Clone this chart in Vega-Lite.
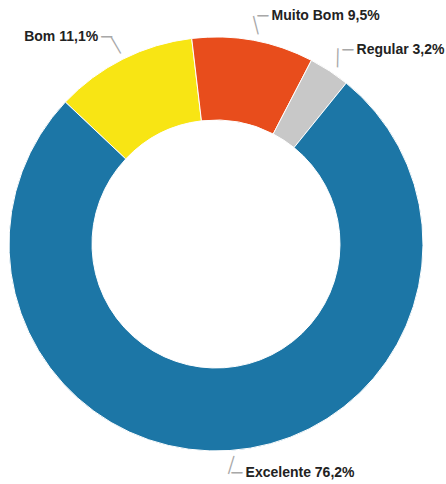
{
  "$schema": "https://vega.github.io/schema/vega-lite/v6.json",
  "width": 432,
  "height": 480,
  "padding": {"left": 0, "top": 4, "right": 14, "bottom": 0},
  "autosize": "none",
  "background": "white",
  "config": {"view": {"stroke": null}},
  "data": {
    "values": [
      {"category": "Bom", "value": 11.1, "rank": 1, "label": "Bom 11,1%"},
      {"category": "Muito Bom", "value": 9.5, "rank": 2, "label": "Muito Bom 9,5%"},
      {"category": "Regular", "value": 3.2, "rank": 3, "label": "Regular 3,2%"},
      {"category": "Excelente", "value": 76.2, "rank": 4, "label": "Excelente 76,2%"}
    ]
  },
  "encoding": {
    "theta": {"field": "value", "type": "quantitative", "stack": true, "scale": {"range": [-0.815, 5.468]}},
    "order": {"field": "rank", "type": "quantitative", "sort": "ascending"}
  },
  "layer": [
    {
      "mark": {"type": "arc", "outerRadius": 207, "innerRadius": 124, "stroke": "white", "strokeWidth": 1},
      "encoding": {
        "color": {
          "field": "category", "type": "nominal",
          "scale": {"domain": ["Bom", "Muito Bom", "Regular", "Excelente"], "range": ["#f8e514", "#e84d1c", "#c8c8c8", "#1c76a6"]},
          "legend": null
        }
      }
    },
    {
      "mark": {"type": "text", "radius": 222, "font": "DejaVu Sans Mono", "fontSize": 16, "align": "center", "baseline": "middle", "color": "#a8a8a8"},
      "encoding": {
        "text": {"value": "│"},
        "angle": {
          "field": "category", "type": "nominal",
          "scale": {"domain": ["Bom", "Muito Bom", "Regular", "Excelente"], "range": [-30, 17, 33, 180]},
          "legend": null
        }
      }
    },
    {
      "mark": {"type": "text", "radius": 231, "font": "DejaVu Sans Mono", "fontSize": 18, "align": "right", "baseline": "middle", "color": "#a8a8a8"},
      "encoding": {"text": {"condition": {"test": "datum.category === 'Bom'", "value": "─"}, "value": ""}}
    },
    {
      "mark": {"type": "text", "radius": 231, "font": "DejaVu Sans Mono", "fontSize": 18, "align": "left", "baseline": "middle", "color": "#a8a8a8"},
      "encoding": {"text": {"condition": {"test": "datum.category !== 'Bom'", "value": "─"}, "value": ""}}
    },
    {
      "mark": {"type": "text", "radius": 231, "font": "Liberation Sans", "fontSize": 14, "fontWeight": "bold", "align": "right", "baseline": "middle", "dx": -14, "dy": -1, "color": "#222222"},
      "encoding": {"text": {"condition": {"test": "datum.category === 'Bom'", "field": "label"}, "value": ""}}
    },
    {
      "mark": {"type": "text", "radius": 231, "font": "Liberation Sans", "fontSize": 14, "fontWeight": "bold", "align": "left", "baseline": "middle", "dx": 14, "dy": -1, "color": "#222222"},
      "encoding": {"text": {"condition": {"test": "datum.category !== 'Bom'", "field": "label"}, "value": ""}}
    }
  ]
}
